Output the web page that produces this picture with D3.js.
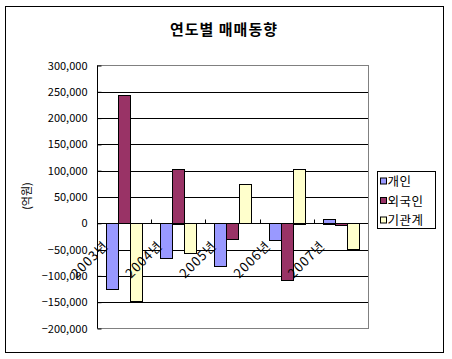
<!DOCTYPE html>
<html><head><meta charset="utf-8">
<script src="https://cdn.jsdelivr.net/npm/d3@7"></script>
<style>body{margin:0;background:#fff;} svg{display:block;}</style>
</head><body>
<svg id="c" width="452" height="359"></svg>
<script>
const categories = ["2003년","2004년","2005년","2006년","2007년"];
const seriesNames = ["개인","외국인","기관계"];
const seriesColors = ["#9999FF","#993366","#FFFFCC"];
const individual = [-125000,-67000,-82000,-33000,9000];
const foreign = [243000,104000,-31000,-109000,-4000];
const institution = [-148000,-57000,75000,104000,-50000];
const yTicks = [300000,250000,200000,150000,100000,50000,0,-50000,-100000,-150000,-200000];
const title = "연도별 매매동향";
const yLabel = "(억원)";

const values = [individual, foreign, institution];
const font = "'Noto Sans CJK KR','Liberation Sans',sans-serif";
const svg = d3.select("#c");
const L = 97, R = 368, T = 65.5, B = 328.5;

svg.append("rect").attr("x",5.5).attr("y",6.5).attr("width",438).attr("height",346)
  .attr("fill","#fff").attr("stroke","#000").attr("stroke-width",1);

svg.append("text").attr("x",224).attr("y",35).attr("text-anchor","middle")
  .attr("font-family",font).attr("font-size",15).attr("font-weight","bold")
  .attr("letter-spacing",1).text(title);

const y = d3.scaleLinear().domain([-200000,300000]).range([B,T]);
const x0 = d3.scaleBand().domain(categories).range([L,R]);
const bw = x0.bandwidth();
const x1 = d3.scaleBand().domain(seriesNames).range([bw*0.75/4.5*1, bw - bw*0.75/4.5]);

// plot border
svg.append("rect").attr("x",L+0.5).attr("y",T).attr("width",R-L).attr("height",B-T)
  .attr("fill","none").attr("stroke","#808080");

// gridlines
const g = svg.append("g").attr("shape-rendering","crispEdges");
g.selectAll("line.grid").data(yTicks.filter(d=>d>-200000 && d<300000)).join("line")
  .attr("x1",L).attr("x2",R).attr("y1",d=>Math.round(y(d))+0.5).attr("y2",d=>Math.round(y(d))+0.5)
  .attr("stroke","#000");

// bars
const data = [];
categories.forEach((c,i)=>seriesNames.forEach((s,j)=>data.push({c,s,j,v:values[j][i]})));
svg.append("g").attr("shape-rendering","crispEdges").selectAll("rect").data(data).join("rect")
  .attr("x",d=>Math.round(x0(d.c)+x1(d.s))+0.5)
  .attr("width",Math.round(x1.bandwidth()))
  .attr("y",d=>Math.round(y(Math.max(0,d.v)))+0.5)
  .attr("height",d=>Math.max(1,Math.round(Math.abs(y(d.v)-y(0)))))
  .attr("fill",d=>seriesColors[d.j]).attr("stroke","#000");

// y axis
const ya = svg.append("g").attr("transform",`translate(${L+0.5},0)`)
  .call(d3.axisLeft(y).tickValues(yTicks).tickSize(-4).tickPadding(10).tickFormat(d3.format(",")));
ya.select(".domain").attr("stroke","#000").attr("d",`M0,${T}V${B}`);
ya.selectAll(".tick line").attr("stroke","#000");
ya.selectAll("text").attr("font-family",font).attr("font-size",11).attr("fill","#000");

// x axis zero line with ticks
const z = Math.round(y(0))+0.5;
svg.append("line").attr("x1",L).attr("x2",R).attr("y1",z).attr("y2",z).attr("stroke","#000");
svg.append("g").selectAll("line").data(categories.slice(1)).join("line")
  .attr("x1",d=>Math.round(x0(d))+0.5).attr("x2",d=>Math.round(x0(d))+0.5)
  .attr("y1",z).attr("y2",z-4).attr("stroke","#000");
svg.append("g").selectAll("text").data(categories).join("text")
  .attr("transform",d=>`translate(${x0(d)+bw/2-15},${z+23}) rotate(-45)`)
  .attr("text-anchor","end").attr("font-family",font).attr("font-size",13)
  .attr("letter-spacing",1).text(d=>d);

// y label
svg.append("text").attr("transform","translate(31,196) rotate(-90)").attr("text-anchor","middle")
  .attr("font-family",font).attr("font-size",11).text(yLabel);

// legend
const lg = svg.append("g").attr("transform","translate(377.5,171.5)");
lg.append("rect").attr("width",58).attr("height",57).attr("fill","#fff").attr("stroke","#000");
seriesNames.forEach((s,j)=>{
  const yy = 10 + j*19.5;
  lg.append("rect").attr("x",3).attr("y",yy-3.5).attr("width",6).attr("height",6)
    .attr("fill",seriesColors[j]).attr("stroke","#000");
  lg.append("text").attr("x",10).attr("y",yy+4.5).attr("font-family",font).attr("font-size",12.5)
    .attr("letter-spacing",0.5).text(s);
});
</script>
</body></html>
